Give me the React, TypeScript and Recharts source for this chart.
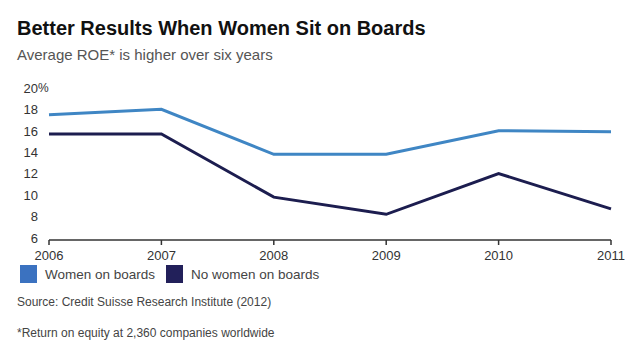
import React from 'react';
import { LineChart, Line, XAxis, YAxis } from 'recharts';

const years = ['2006', '2007', '2008', '2009', '2010', '2011'];
const womenOnBoards = [17.7, 18.2, 14.0, 14.0, 16.2, 16.1];
const noWomenOnBoards = [15.9, 15.9, 10.0, 8.4, 12.2, 8.9];
const yTicks = [6, 8, 10, 12, 14, 16, 18, 20];

const LIGHT = '#3f86c4';
const DARK = '#1c1d4f';
const FONT = '"Liberation Sans", Arial, sans-serif';

const chartData = years.map((year, i) => ({
  year,
  women: womenOnBoards[i],
  noWomen: noWomenOnBoards[i],
}));

// y labels are right-aligned on the number, the "%" hangs off the top one
const YTick = (props: any) => {
  const { y, payload } = props;
  return (
    <g>
      <text x={38} y={y - 2} dy="0.36em" textAnchor="end" fontSize={13} fill="#333" fontFamily={FONT}>
        {payload.value}
      </text>
      {payload.value === 20 && (
        <text x={38} y={y - 2} dy="0.36em" textAnchor="start" fontSize={12} fill="#333" fontFamily={FONT}>
          %
        </text>
      )}
    </g>
  );
};

const LegendItem = ({ color, label, left }: { color: string; label: string; left: number }) => (
  <div style={{ position: 'absolute', left, top: 265, display: 'flex', alignItems: 'center' }}>
    <div style={{ width: 17, height: 18, background: color }} />
    <span style={{ marginLeft: 8, fontSize: 13.5, color: '#444' }}>{label}</span>
  </div>
);

export default function App() {
  return (
    <div
      style={{
        position: 'fixed',
        left: 0,
        top: 0,
        width: 640,
        height: 352,
        background: '#fff',
        fontFamily: FONT,
        overflow: 'hidden',
      }}
    >
      <div style={{ position: 'absolute', left: 17, top: 17, fontSize: 20, fontWeight: 'bold', color: '#111' }}>
        Better Results When Women Sit on Boards
      </div>
      <div style={{ position: 'absolute', left: 17, top: 46, fontSize: 15, color: '#555' }}>
        Average ROE* is higher over six years
      </div>

      <div style={{ position: 'absolute', left: 0, top: 0 }}>
        <LineChart width={640} height={352} data={chartData} margin={{ top: 90, right: 29, bottom: 82, left: 0 }}>
          <XAxis
            dataKey="year"
            height={30}
            tickSize={5}
            tickMargin={6}
            interval={0}
            stroke="#333"
            strokeWidth={1.5}
            tick={{ fontSize: 13, fill: '#333', fontFamily: FONT }}
          />
          <YAxis
            width={49}
            domain={[6, 20]}
            ticks={yTicks}
            interval={0}
            axisLine={false}
            tickLine={false}
            tick={<YTick />}
          />
          <Line
            type="linear"
            dataKey="women"
            stroke={LIGHT}
            strokeWidth={3}
            dot={false}
            isAnimationActive={false}
          />
          <Line
            type="linear"
            dataKey="noWomen"
            stroke={DARK}
            strokeWidth={3}
            dot={false}
            isAnimationActive={false}
          />
        </LineChart>
      </div>

      <LegendItem color="#3b72c0" label="Women on boards" left={20} />
      <LegendItem color="#22205a" label="No women on boards" left={166} />

      <div style={{ position: 'absolute', left: 17, top: 295, fontSize: 12, color: '#444' }}>
        Source: Credit Suisse Research Institute (2012)
      </div>
      <div style={{ position: 'absolute', left: 17, top: 326, fontSize: 12, color: '#444' }}>
        *Return on equity at 2,360 companies worldwide
      </div>
    </div>
  );
}
